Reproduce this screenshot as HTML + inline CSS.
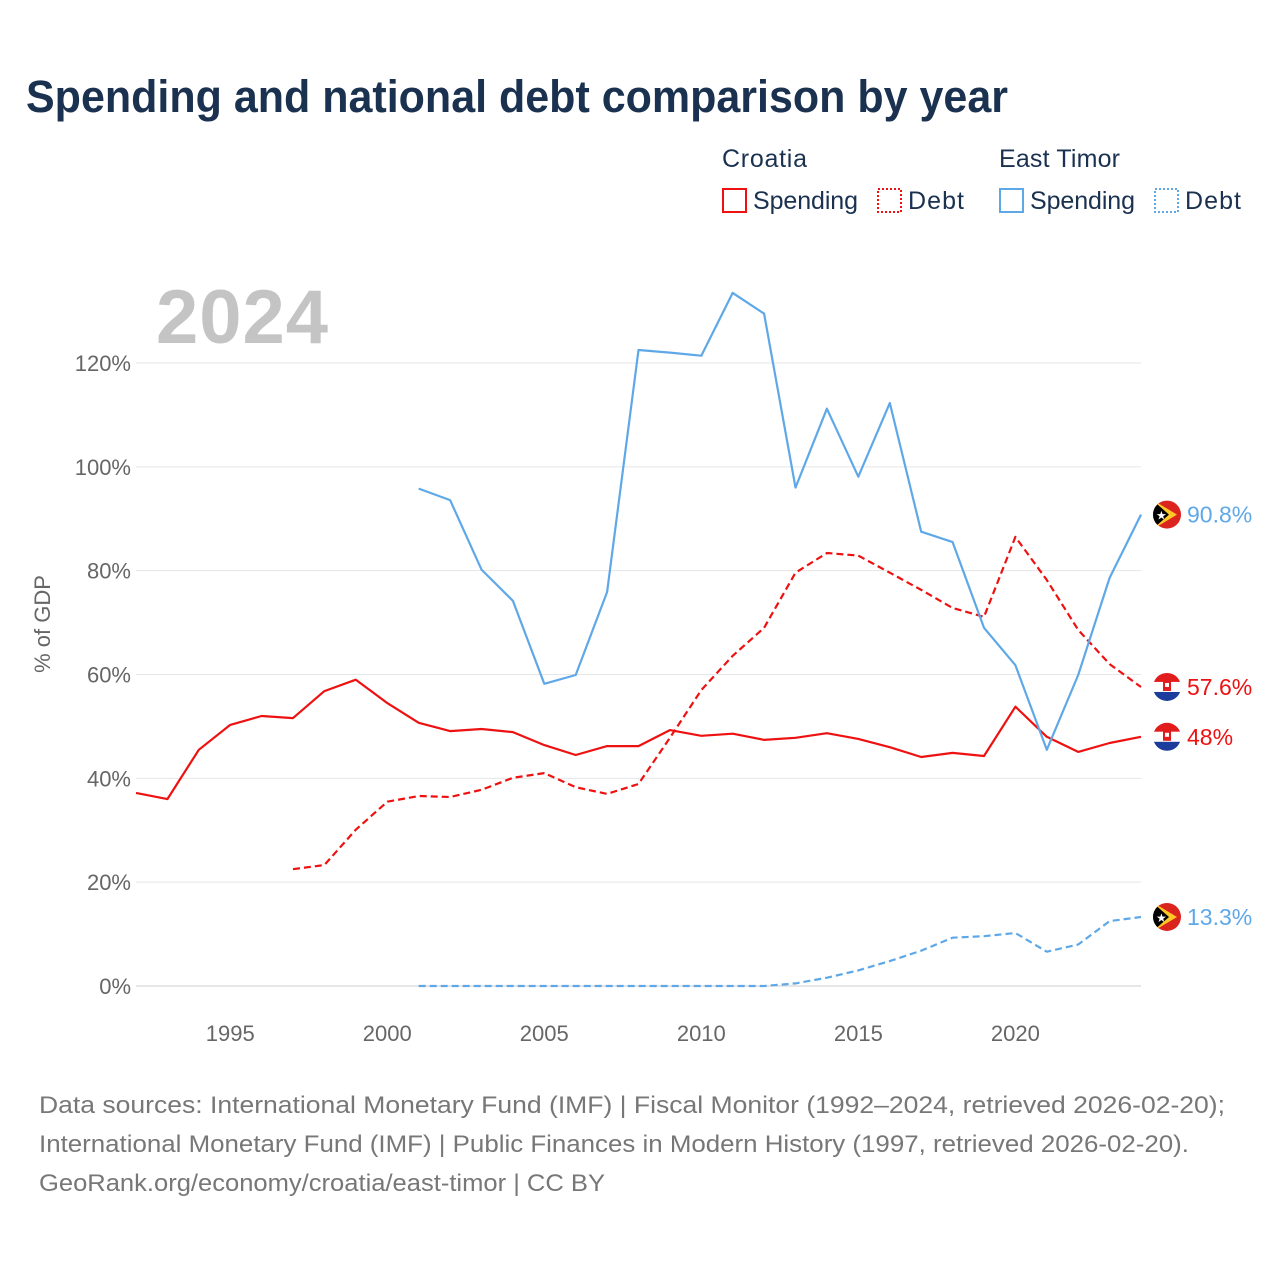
<!DOCTYPE html>
<html><head><meta charset="utf-8"><style>
body{margin:0;background:#fff;font-family:"Liberation Sans",sans-serif;}
#wrap{position:relative;width:1280px;height:1280px;overflow:hidden}
</style></head><body>
<div id="wrap">
<svg id="chart" width="1280" height="1280"></svg>
</div>
<script>
const years = Array.from({length:33},(_,i)=>1992+i);
const hrSpending = [37.2,36.0,45.5,50.3,52.0,51.6,56.8,59.0,54.5,50.7,49.1,49.5,48.9,46.4,44.5,46.2,46.2,49.3,48.2,48.6,47.4,47.8,48.7,47.6,46.0,44.1,44.9,44.3,53.8,48.0,45.1,46.8,48.0];
const hrDebt = [null,null,null,null,null,22.5,23.3,30.1,35.5,36.6,36.4,37.8,40.1,41.0,38.3,37.0,38.9,47.8,57.0,63.6,69.0,79.6,83.4,82.9,79.6,76.3,72.8,71.1,86.5,78.2,68.6,62.0,57.6];
const tlSpending = [null,null,null,null,null,null,null,null,null,95.8,93.6,80.2,74.2,58.2,59.9,75.9,122.5,122.0,121.4,133.5,129.5,96.0,111.2,98.1,112.3,87.5,85.5,69.0,61.8,45.5,59.9,78.6,90.8];
const tlDebt = [null,null,null,null,null,null,null,null,null,0,0,0,0,0,0,0,0,0,0,0,0,0.5,1.6,3.0,4.8,6.8,9.3,9.6,10.2,6.6,8.0,12.5,13.3];
const yTicks = [0,20,40,60,80,100,120];
const xTicks = [1995,2000,2005,2010,2015,2020];

const RED="#ee1111", BLUE="#5fa8e8", NAVY="#1b3150";
const X=y=>136+(y-1992)*(1141-136)/32;
const Y=v=>986-v*(986-363)/120;
const svg=document.getElementById('chart');
const NS="http://www.w3.org/2000/svg";
function mk(tag,attrs,parent){const e=document.createElementNS(NS,tag);for(const k in attrs)e.setAttribute(k,attrs[k]);(parent||svg).appendChild(e);return e;}
function txt(s,attrs,parent){const e=mk('text',attrs,parent);e.textContent=s;return e;}

let t=txt('Spending and national debt comparison by year',{x:26,y:112,'font-size':45,'font-weight':'bold',fill:NAVY,textLength:982,lengthAdjust:'spacingAndGlyphs'});


// legend
const lg=mk('g',{});

txt('Croatia',{x:722,y:167,'font-size':25,fill:NAVY,textLength:85},lg);
txt('East Timor',{x:999,y:167,'font-size':25,fill:NAVY,textLength:121},lg);
const items=[[722,RED,null,'Spending','legend-croatia-spending',105],[877,RED,'2,2','Debt','legend-croatia-debt',56],[999,BLUE,null,'Spending','legend-east-timor-spending',105],[1154,BLUE,'2,2','Debt','legend-east-timor-debt',56]];
items.forEach(([x,c,d,l,n,w])=>{const g=mk('g',{},lg);

const r=mk('rect',{x:x+1,y:189,width:23,height:23,fill:'none',stroke:c,'stroke-width':2},g);if(d)r.setAttribute('stroke-dasharray',d);
txt(l,{x:x+31,y:209,'font-size':25,fill:NAVY,textLength:w},g);});

t=txt('2024',{x:156,y:343,'font-size':76,'font-weight':'bold',fill:'#c4c4c4',textLength:172});


yTicks.forEach(v=>{const l=mk('line',{x1:136,x2:1141,y1:Y(v),y2:Y(v),stroke:v===0?'#ccc':'#e6e6e6','stroke-width':1});

const tt=txt(v+'%',{x:131,y:Y(v)+8,'font-size':22,fill:'#666','text-anchor':'end'});
});
xTicks.forEach(v=>{const tt=txt(v,{x:X(v),y:1041,'font-size':22,fill:'#666','text-anchor':'middle'});
});
t=txt('% of GDP',{x:0,y:0,'font-size':22,fill:'#666','text-anchor':'middle',transform:'translate(50,624) rotate(-90)'});


function line(vals,c,dash,name){let d='',pen=false;vals.forEach((v,i)=>{if(v==null){pen=false;return;}d+=(pen?'L':'M')+X(years[i]).toFixed(1)+','+Y(v).toFixed(1);pen=true;});
const p=mk('path',{d,fill:'none',stroke:c,'stroke-width':2.2,'stroke-linejoin':'round'});if(dash)p.setAttribute('stroke-dasharray',dash);
}
line(hrSpending,RED,null,'line-croatia-spending');
line(hrDebt,RED,'7,4','line-croatia-debt');
line(tlSpending,BLUE,null,'line-east-timor-spending');
line(tlDebt,BLUE,'7,4','line-east-timor-debt');

function flag(y,type,name){const g=mk('g',{transform:`translate(1167,${y})`});

const clip=mk('clipPath',{id:'c'+name},g);mk('circle',{r:14},clip);
const gg=mk('g',{'clip-path':`url(#c${name})`},g);
if(type==='hr'){mk('rect',{x:-15,y:-15,width:30,height:10,fill:'#e21c1c'},gg);mk('rect',{x:-15,y:-5,width:30,height:10,fill:'#fff'},gg);mk('rect',{x:-15,y:5,width:30,height:10,fill:'#1c3d9c'},gg);mk('rect',{x:-4,y:-6,width:8,height:10,fill:'#e21c1c'},gg);mk('rect',{x:-2,y:-4,width:4,height:4,fill:'#fff'},gg);}
else{mk('rect',{x:-15,y:-15,width:30,height:30,fill:'#dc241f'},gg);mk('path',{d:'M-15,-15L10,0L-15,15Z',fill:'#ffc726'},gg);mk('path',{d:'M-15,-15L2,0L-15,15Z',fill:'#000'},gg);txt('★',{x:-11,y:5,'font-size':12,fill:'#fff'},gg);}
}
function endLabel(v,c,s,name){const tt=txt(s,{x:1187,y:Y(v)+8,'font-size':23,fill:c});}
flag(Y(90.8),'tl','flag-east-timor-spending');endLabel(90.8,BLUE,'90.8%','end-label-east-timor-spending');
flag(Y(57.6),'hr','flag-croatia-debt');endLabel(57.6,RED,'57.6%','end-label-croatia-debt');
flag(Y(48),'hr','flag-croatia-spending');endLabel(48,RED,'48%','end-label-croatia-spending');
flag(Y(13.3),'tl','flag-east-timor-debt');endLabel(13.3,BLUE,'13.3%','end-label-east-timor-debt');

const src=['Data sources: International Monetary Fund (IMF) | Fiscal Monitor (1992–2024, retrieved 2026-02-20);','International Monetary Fund (IMF) | Public Finances in Modern History (1997, retrieved 2026-02-20).','GeoRank.org/economy/croatia/east-timor | CC BY'];
const srcW=[1186,1150,566];
src.forEach((s,i)=>{const tt=txt(s,{x:39,y:1113+i*39,'font-size':24,fill:'#777',textLength:srcW[i],lengthAdjust:'spacingAndGlyphs'});});
</script>
</body></html>
